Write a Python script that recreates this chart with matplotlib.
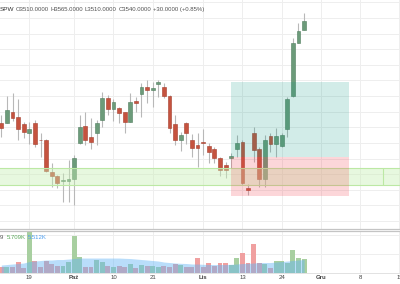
import numpy as np
import matplotlib
matplotlib.use("Agg")
import matplotlib.pyplot as plt
from matplotlib.patches import Rectangle

# ---------------- data ----------------
opens = [3215, 3214, 3250, 3234, 3209, 3183, 3215, 3160, 3160, 3058,
         3044, 3028, 3029, 3033, 3149, 3205, 3170, 3183, 3223, 3295,
         3258, 3261, 3250, 3218, 3284, 3305, 3328, 3319, 3338, 3330,
         3300, 3209, 3159, 3215, 3159, 3143, 3152, 3140, 3130, 3101,
         3079, 3101, 3130, 3154, 3007, 3181, 3130, 3033, 3173, 3145,
         3140, 3194, 3300, 3469, 3510]
highs = [3239, 3301, 3310, 3289, 3218, 3218, 3223, 3181, 3162, 3086,
         3047, 3054, 3095, 3111, 3239, 3250, 3230, 3223, 3314, 3303,
         3289, 3266, 3250, 3309, 3298, 3341, 3351, 3346, 3351, 3341,
         3303, 3239, 3186, 3218, 3178, 3181, 3193, 3149, 3136, 3106,
         3090, 3118, 3175, 3159, 3018, 3202, 3138, 3175, 3181, 3197,
         3181, 3298, 3485, 3533, 3565]
lows = [3169, 3213, 3220, 3159, 3165, 3146, 3138, 3106, 3057, 3010,
        3006, 2962, 2962, 2951, 3148, 3143, 3130, 3143, 3202, 3239,
        3220, 3213, 3181, 3218, 3250, 3232, 3277, 3266, 3298, 3293,
        3182, 3143, 3125, 3146, 3106, 3072, 3111, 3087, 3085, 3045,
        3037, 3070, 3106, 3015, 2983, 3090, 3010, 3010, 3122, 3106,
        3138, 3170, 3298, 3469, 3510]
closes = [3199, 3255, 3229, 3193, 3184, 3194, 3145, 3158, 3060, 3044,
          3021, 3030, 3034, 3101, 3202, 3159, 3154, 3215, 3295, 3258,
          3280, 3245, 3218, 3280, 3279, 3330, 3319, 3325, 3344, 3300,
          3199, 3159, 3175, 3181, 3135, 3135, 3150, 3120, 3101, 3063,
          3063, 3109, 3149, 3021, 2999, 3127, 3033, 3159, 3145, 3173,
          3175, 3290, 3469, 3508, 3540]
volumes_k = [2.45, 2.45, 2.45, 4.31, 2.03, 17.26, 4.99, 2.45, 4.86, 3.47,
             2.88, 2.88, 4.31, 15.57, 6.43, 2.45, 2.45, 5.29, 4.31, 2.88,
             2.20, 2.88, 2.20, 3.47, 2.00, 3.00, 2.90, 2.90, 2.45, 2.75,
             2.45, 3.47, 3.17, 2.20, 2.45, 6.26, 2.20, 3.89, 2.88, 3.89,
             3.89, 3.17, 6.00, 8.12, 3.89, 12.06, 4.15, 3.47, 2.03, 4.99,
             4.99, 3.89, 9.52, 6.00, 5.709]
volume_ma_k = [3.17, 3.38, 3.60, 3.81, 4.02, 4.65, 4.86, 5.08, 5.29, 5.29,
               5.50, 5.50, 5.71, 5.92, 6.13, 6.13, 6.13, 6.13, 6.13, 6.13,
               6.13, 6.13, 6.01, 5.92, 5.71, 5.50, 5.29, 5.08, 4.86, 4.44,
               4.23, 4.02, 3.89, 3.81, 3.60, 3.60, 3.47, 3.38, 3.38, 3.38,
               3.38, 3.47, 3.60, 3.81, 3.89, 4.02, 4.23, 4.23, 4.23, 4.44,
               4.65, 4.86, 5.08, 5.29, 5.512]

tick_pos = [5, 13, 20, 27, 36, 43, 50, 57, 64, 71]
tick_labels = ["19", "Paź", "10", "21", "Lis", "13", "24", "Gru", "8", "15"]
month_labels = ["Paź", "Lis", "Gru"]

zone_low, zone_high = 3014, 3069
zone_split = 68.1
pos_start, pos_end = 41, 62
pos_entry, pos_target, pos_stop = 3104, 3346, 2981

header_symbol = "SPW"
header_parts = ["O3510.0000", "H3565.0000", "L3510.0000", "C3540.0000", "+30.0000 (+0.85%)"]
vol_legend = ["9", "5.709K", "5.512K"]

# ---------------- figure ----------------
W, H = 400, 284
fig = plt.figure(figsize=(W / 100, H / 100), dpi=100)
fig.patch.set_facecolor("white")
FONT = "Liberation Sans"

ax = fig.add_axes([0, (H - 229) / H, 1, 229 / H])
axv = fig.add_axes([0, (H - 272.5) / H, 1, (272.5 - 231) / H])

xl = (-0.23, 71.1)
idx = np.arange(len(opens))
o = np.array(opens, float); c = np.array(closes, float)
hi = np.array(highs, float); lo = np.array(lows, float)
up = c >= o

grid_c = "#eeeeee"
for a in (ax, axv):
    a.set_xlim(*xl)
    for t in tick_pos:
        a.axvline(t, color=grid_c, lw=0.7, zorder=0)
    a.tick_params(left=False, labelleft=False, bottom=False, labelbottom=False)
    for s in a.spines.values():
        s.set_visible(False)

# main pane
ax.set_ylim(2874.4, 3607.2)
for yv in np.arange(2900, 3601, 50):
    ax.axhline(yv, color=grid_c, lw=0.7, zorder=0)

ax.vlines(idx, lo, hi, color="#b8b8b8", lw=0.8, zorder=2)
body_bottom = np.minimum(o, c)
body_h = np.maximum(np.abs(c - o), 1.5)
fill = np.where(up, "#6c9b7a", "#c5533f")
edge = np.where(up, "#507d5e", "#a53d2b")
ax.bar(idx, body_h, bottom=body_bottom, width=0.68, color=fill, edgecolor=edge,
       linewidth=0.4, zorder=3)

# green zone (two adjoining rectangles)
zc = "#c8f0b4"
ax.add_patch(Rectangle((-2, zone_low), zone_split + 2, zone_high - zone_low,
                       facecolor=zc, alpha=0.42, edgecolor="none", zorder=4))
ax.add_patch(Rectangle((zone_split, zone_low), 10, zone_high - zone_low,
                       facecolor=zc, alpha=0.42, edgecolor="none", zorder=4))
for yv in (zone_low, zone_high):
    ax.axhline(yv, color="#bce8a4", lw=0.8, zorder=4)
ax.vlines(zone_split, zone_low, zone_high, color="#bce8a4", lw=0.8, zorder=4)

# long position tool
ax.add_patch(Rectangle((pos_start, pos_entry), pos_end - pos_start, pos_target - pos_entry,
                       facecolor="#089981", alpha=0.18, edgecolor="none", zorder=5))
ax.add_patch(Rectangle((pos_start, pos_stop), pos_end - pos_start, pos_entry - pos_stop,
                       facecolor="#f23645", alpha=0.2, edgecolor="none", zorder=5))

ax.spines["bottom"].set_visible(True)
ax.spines["bottom"].set_color("#c4c4c4")
ax.spines["bottom"].set_linewidth(0.9)

# volume pane
axv.set_ylim(0, 17.6)
for yv in (8, 16):
    axv.axhline(yv, color=grid_c, lw=0.7, zorder=0)
vcol = np.where(up, "#a8cfa0", "#f0a0a0")
axv.bar(idx, volumes_k, width=0.88, color=vcol, linewidth=0, zorder=2)
axv.fill_between(idx, volume_ma_k, 0, color="#64b5f6", alpha=0.45, linewidth=0, zorder=3)
axv.spines["top"].set_visible(True)
axv.spines["top"].set_color("#c4c4c4")
axv.spines["top"].set_linewidth(0.9)
axv.spines["bottom"].set_visible(True)
axv.spines["bottom"].set_color("#dddddd")
axv.spines["bottom"].set_linewidth(0.6)

axv.set_xticks(tick_pos)
axv.set_xticklabels(tick_labels, fontsize=4.3, color="#444444", family=FONT)
axv.tick_params(bottom=False, labelbottom=True, length=0, pad=2.0)
for lab in axv.get_xticklabels():
    if lab.get_text() in month_labels:
        lab.set_fontweight("bold")

# header
hy = 1 - 9.5 / H
fig.text(-0.5 / W, hy, header_symbol, fontsize=4.6, color="#333333", va="center",
         ha="left", family=FONT)
hx = [16, 50.5, 84.3, 118.3, 153.3]
for x, t in zip(hx, header_parts):
    fig.text(x / W, hy, t, fontsize=4.3, color="#505050", va="center", ha="left", family=FONT)

# volume legend
vy = 1 - 237.3 / H
fig.text(0 / W, vy, vol_legend[0], fontsize=4.3, color="#555555", va="center", family=FONT)
fig.text(6.7 / W, vy, vol_legend[1], fontsize=4.3, color="#5aa85a", va="center", family=FONT)
fig.text(27.7 / W, vy, vol_legend[2], fontsize=4.3, color="#4a9df0", va="center", family=FONT)

fig.savefig("out.png", dpi=100, facecolor="white")
